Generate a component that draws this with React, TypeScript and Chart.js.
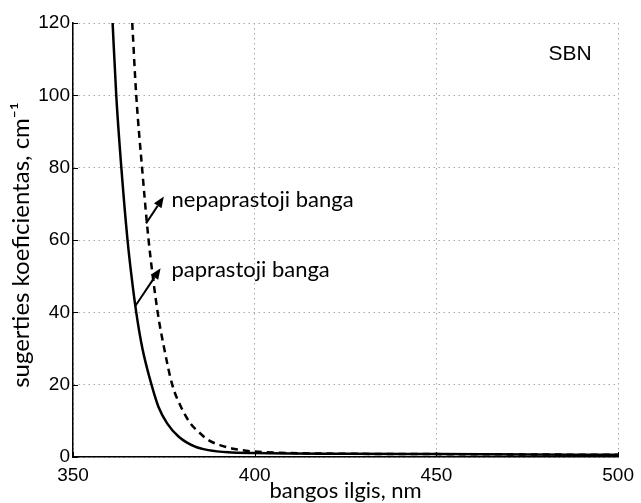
import React, { useEffect, useRef } from 'react';
import { Chart, registerables } from 'chart.js';

Chart.register(...registerables);

// Ordinary wave (solid)
const ordinaryWavelength = [360.9, 361.9, 363.3, 365.0, 366.1, 367.4, 369.1, 371.6, 373.5, 375.9, 379.1, 383.6, 387.3, 392.7, 400, 425, 450, 475, 500];
const ordinaryAbsorption = [120, 100, 80, 60, 50, 40, 30, 20, 13.9, 9.3, 5.6, 2.85, 1.9, 1.3, 1.1, 0.9, 0.8, 0.7, 0.6];

// Extraordinary wave (dashed)
const extraWavelength = [366.3, 367.4, 369.0, 370.8, 373.3, 375.1, 377.3, 379.7, 382.3, 384.5, 387.2, 390.4, 394.5, 400, 412, 425, 450, 475, 500];
const extraAbsorption = [120, 100, 80, 60, 40, 30, 20, 13.9, 9.3, 7.0, 4.7, 3.3, 2.2, 1.5, 1.05, 0.9, 0.8, 0.7, 0.6];

const xTicks = [350, 400, 450, 500];
const yTicks = [0, 20, 40, 60, 80, 100, 120];

const xTitle = 'bangos ilgis, nm';
const yTitle = 'sugerties koeficientas, cm⁻¹';
const labelExtra = 'nepaprastoji banga';
const labelOrdinary = 'paprastoji banga';
const labelMaterial = 'SBN';

// annotation anchors in data coordinates: [x1, y1, x2, y2]
const arrowExtra = [370.1, 64.6, 375.0, 72.0];
const arrowOrdinary = [367.1, 41.7, 374.1, 52.2];
const textExtraPos = [377.1, 71.2];
const textOrdinaryPos = [377.1, 51.7];
const textMaterialPos = [486.8, 111.4];

const toPoints = (xs: number[], ys: number[]) => xs.map((x, i) => ({ x, y: ys[i] }));

const drawArrow = (ctx: CanvasRenderingContext2D, x1: number, y1: number, x2: number, y2: number) => {
  const ang = Math.atan2(y2 - y1, x2 - x1);
  const len = 11;
  const hw = 4.5;
  const bx = x2 - len * Math.cos(ang);
  const by = y2 - len * Math.sin(ang);
  ctx.beginPath();
  ctx.moveTo(x1, y1);
  ctx.lineTo(bx, by);
  ctx.lineWidth = 2;
  ctx.strokeStyle = '#000';
  ctx.stroke();
  ctx.beginPath();
  ctx.moveTo(x2, y2);
  ctx.lineTo(bx + hw * Math.sin(ang), by - hw * Math.cos(ang));
  ctx.lineTo(bx - hw * Math.sin(ang), by + hw * Math.cos(ang));
  ctx.closePath();
  ctx.fillStyle = '#000';
  ctx.fill();
};

const overlayPlugin = {
  id: 'overlay',
  afterDatasetsDraw(chart: any) {
    const ctx: CanvasRenderingContext2D = chart.ctx;
    const xs = chart.scales.x;
    const ys = chart.scales.y;
    const area = chart.chartArea;
    ctx.save();
    // inward tick marks
    ctx.strokeStyle = '#000';
    ctx.lineWidth = 1;
    ctx.beginPath();
    yTicks.forEach((v) => {
      const py = Math.round(ys.getPixelForValue(v)) + 0.5;
      ctx.moveTo(area.left, py);
      ctx.lineTo(area.left + 5, py);
    });
    xTicks.forEach((v) => {
      const px = Math.round(xs.getPixelForValue(v)) + 0.5;
      ctx.moveTo(px, area.bottom);
      ctx.lineTo(px, area.bottom - 5);
    });
    ctx.stroke();

    const a1 = arrowExtra;
    drawArrow(ctx, xs.getPixelForValue(a1[0]), ys.getPixelForValue(a1[1]), xs.getPixelForValue(a1[2]), ys.getPixelForValue(a1[3]));
    const a2 = arrowOrdinary;
    drawArrow(ctx, xs.getPixelForValue(a2[0]), ys.getPixelForValue(a2[1]), xs.getPixelForValue(a2[2]), ys.getPixelForValue(a2[3]));

    ctx.fillStyle = '#000';
    ctx.textBaseline = 'middle';
    ctx.textAlign = 'left';
    ctx.font = '22px Lato';
    ctx.fillText(labelExtra, xs.getPixelForValue(textExtraPos[0]), ys.getPixelForValue(textExtraPos[1]));
    ctx.fillText(labelOrdinary, xs.getPixelForValue(textOrdinaryPos[0]), ys.getPixelForValue(textOrdinaryPos[1]));

    ctx.textAlign = 'center';
    ctx.font = '21px "Liberation Sans"';
    ctx.fillText(labelMaterial, xs.getPixelForValue(textMaterialPos[0]), ys.getPixelForValue(textMaterialPos[1]));

    // y axis title
    ctx.save();
    ctx.translate(21, 245);
    ctx.rotate(-Math.PI / 2);
    ctx.font = '24px Lato';
    ctx.textAlign = 'center';
    ctx.textBaseline = 'middle';
    ctx.fillText(yTitle, 0, 0);
    ctx.restore();

    ctx.restore();
  },
};

export default function App() {
  const ref = useRef<HTMLCanvasElement>(null);
  useEffect(() => {
    if (!ref.current) return;
    const chart = new Chart(ref.current, {
      type: 'line',
      data: {
        datasets: [
          {
            label: labelOrdinary,
            data: toPoints(ordinaryWavelength, ordinaryAbsorption),
            borderColor: '#000',
            borderWidth: 2.5,
            pointRadius: 0,
            cubicInterpolationMode: 'monotone',
            fill: false,
          },
          {
            label: labelExtra,
            data: toPoints(extraWavelength, extraAbsorption),
            borderColor: '#000',
            borderWidth: 2.5,
            borderDash: [7, 5],
            pointRadius: 0,
            cubicInterpolationMode: 'monotone',
            fill: false,
          },
        ],
      },
      options: {
        responsive: false,
        animation: false,
        events: [],
        layout: { padding: { top: 23, right: 18, left: 0, bottom: 0 } },
        plugins: { legend: { display: false }, tooltip: { enabled: false } },
        scales: {
          x: {
            type: 'linear',
            min: 350,
            max: 500,
            afterBuildTicks: (s: any) => { s.ticks = xTicks.map((v) => ({ value: v })); },
            afterFit: (s: any) => { s.height = 46; },
            ticks: {
              color: '#000',
              font: { family: '"Liberation Sans"', size: 19 },
              padding: 7,
              maxRotation: 0,
              autoSkip: false,
            },
            grid: { color: '#a8a8a8', lineWidth: 1, drawTicks: false },
            border: { display: true, color: '#000', width: 1.5, dash: [1.5, 3.5] },
            title: {
              display: true,
              text: xTitle,
              color: '#000',
              font: { family: 'Lato', size: 22 },
              padding: { top: 0, bottom: -1 },
            },
          },
          y: {
            type: 'linear',
            min: 0,
            max: 120,
            afterBuildTicks: (s: any) => { s.ticks = yTicks.map((v) => ({ value: v })); },
            afterFit: (s: any) => { s.width = 73; },
            ticks: {
              color: '#000',
              font: { family: '"Liberation Sans"', size: 19 },
              padding: 3,
              autoSkip: false,
            },
            grid: { color: '#a8a8a8', lineWidth: 1, drawTicks: false },
            border: { display: true, color: '#000', width: 1.5, dash: [1.5, 3.5] },
            title: { display: false },
          },
        },
      },
      plugins: [overlayPlugin],
    } as any);
    return () => chart.destroy();
  }, []);
  return (
    <div style={{ position: 'fixed', left: 0, top: 0, width: 641, height: 503, background: '#fff' }}>
      <canvas ref={ref} width={641} height={503} style={{ display: 'block' }} />
    </div>
  );
}
